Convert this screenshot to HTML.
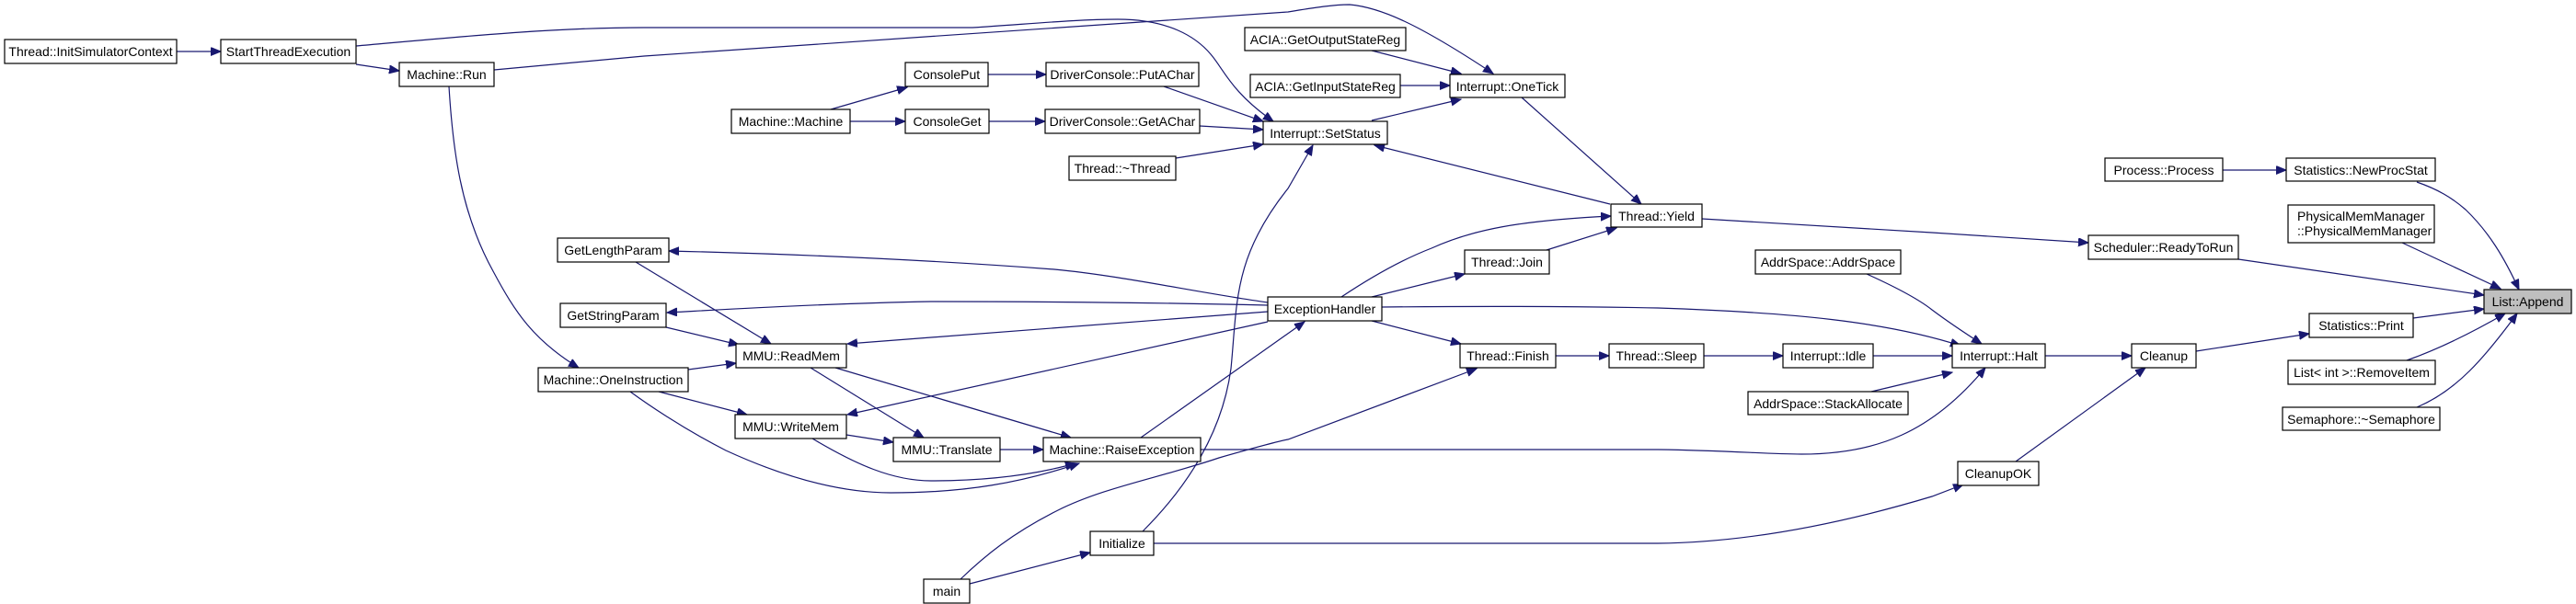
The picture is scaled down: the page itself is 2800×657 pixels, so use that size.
<!DOCTYPE html>
<html><head><meta charset="utf-8"><style>
html,body{margin:0;padding:0;background:#fff;}
svg{display:block;}
text{font-family:"Liberation Sans",Arial,sans-serif;font-size:14px;fill:#000;text-anchor:middle;}
.n{fill:#fff;stroke:#000;stroke-width:1.2;}
.s{fill:none;stroke:#999;stroke-width:1.5;}
.e{fill:none;stroke:#191970;stroke-width:1.2;marker-end:url(#a);}
</style></head><body>
<svg width="2800" height="657" viewBox="0 0 2800 657" xmlns="http://www.w3.org/2000/svg">
<defs><marker id="a" markerUnits="userSpaceOnUse" markerWidth="12" markerHeight="10" refX="11" refY="4.5" orient="auto"><path d="M0,0 L11,4.5 L0,9 z" fill="#191970" stroke="#191970"/></marker></defs>

<!-- edges -->
<path class="e" d="M192,56 L240,56"/>
<path class="e" d="M387,70 L434,77"/>
<path class="e" d="M387,50 C500,40 600,30 700,30 L1057,30 C1120,26 1170,21 1215,21 C1270,21 1300,40 1316,59 C1330,75 1338,100 1384,132"/>
<path class="e" d="M537,76 L700,61 L1400,13 C1430,8 1450,5 1467,5 C1500,8 1540,25 1623,80"/>
<path class="e" d="M488,94 C492,160 500,230 536,295 C560,340 580,370 629,400"/>
<path class="e" d="M903,119 L986,95"/>
<path class="e" d="M924,132 L984,132"/>
<path class="e" d="M1074,81 L1137,81"/>
<path class="e" d="M1075,132 L1136,132"/>
<path class="e" d="M1265,94 L1373,132"/>
<path class="e" d="M1304,137 L1373,141"/>
<path class="e" d="M1278,172 L1373,157"/>
<path class="e" d="M1491,55 L1588,80"/>
<path class="e" d="M1522,93 L1576,93"/>
<path class="e" d="M1491,131 L1588,108"/>
<path class="e" d="M1654,106 L1784,222"/>
<path class="e" d="M1750,222 L1494,158"/>
<path class="e" d="M1242,578 C1300,520 1330,460 1338,401 C1345,330 1340,280 1400,205 L1427,158"/>
<path class="e" d="M1458,323 C1500,295 1530,280 1556,270 C1600,250 1650,240 1751,235"/>
<path class="e" d="M1491,323 L1592,298"/>
<path class="e" d="M1681,272 L1757,248"/>
<path class="e" d="M1850,238 L2100,253 L2270,264"/>
<path class="e" d="M2416,185 L2485,185"/>
<path class="e" d="M2627,198 C2650,206 2665,215 2680,228 C2705,252 2722,280 2738,315"/>
<path class="e" d="M2611,264 L2718,314"/>
<path class="e" d="M2433,282 L2700,321"/>
<path class="e" d="M2623,346 L2700,336"/>
<path class="e" d="M2616,392 C2650,380 2690,360 2723,341"/>
<path class="e" d="M2627,443 C2670,425 2700,390 2736,341"/>
<path class="e" d="M2387,382 L2510,363"/>
<path class="e" d="M2223,387 L2317,387"/>
<path class="e" d="M2191,502 L2332,400"/>
<path class="e" d="M1254,591 L1802,591 C1900,590 2000,570 2100,540 L2134,527"/>
<path class="e" d="M1054,635 L1185,601"/>
<path class="e" d="M1044,630 C1070,605 1100,580 1150,555 C1200,530 1260,520 1325,498 C1360,488 1390,480 1400,478 L1605,401"/>
<path class="e" d="M2029,298 C2060,312 2085,325 2100,337 C2120,352 2140,365 2154,374"/>
<path class="e" d="M1502,334 C1600,333 1700,333 1802,335 C1950,340 2050,350 2131,376"/>
<path class="e" d="M2036,387 L2122,387"/>
<path class="e" d="M2034,426 L2122,405"/>
<path class="e" d="M1305,489 L1802,489 C1880,490 1920,494 1958,494 C2040,494 2100,470 2158,400"/>
<path class="e" d="M1491,349 L1588,374"/>
<path class="e" d="M1691,387 L1749,387"/>
<path class="e" d="M1852,387 L1938,387"/>
<path class="e" d="M1378,329 C1300,318 1220,300 1146,293 C1000,282 850,276 727,273"/>
<path class="e" d="M1378,332 C1250,329 1100,328 1012,328 C900,330 800,336 725,340"/>
<path class="e" d="M1378,339 L921,374"/>
<path class="e" d="M1240,476 L1418,350"/>
<path class="e" d="M1378,350 L921,451"/>
<path class="e" d="M691,285 L838,374"/>
<path class="e" d="M724,356 L803,375"/>
<path class="e" d="M748,402 L800,395"/>
<path class="e" d="M716,426 L812,451"/>
<path class="e" d="M685,426 C700,437 740,465 789,490 C850,518 910,536 968,536 C1050,536 1110,525 1173,504"/>
<path class="e" d="M881,400 L1004,476"/>
<path class="e" d="M908,400 L1164,476"/>
<path class="e" d="M920,473 L971,481"/>
<path class="e" d="M883,477 C930,505 970,523 1012,523 C1080,523 1130,515 1169,504"/>
<path class="e" d="M1087,489 L1134,489"/>

<!-- nodes -->
<g>
<rect class="n" x="5" y="43" width="187" height="26"/><text x="98.5" y="61">Thread::InitSimulatorContext</text>
<rect class="n" x="240" y="43" width="147" height="26"/><text x="313.5" y="61">StartThreadExecution</text>
<rect class="n" x="434" y="68" width="103" height="26"/><text x="485.5" y="86">Machine::Run</text>
<rect class="n" x="606" y="259" width="121" height="26"/><text x="666.5" y="277">GetLengthParam</text>
<rect class="n" x="609" y="330" width="115" height="26"/><text x="666.5" y="348">GetStringParam</text>
<rect class="n" x="585" y="400" width="163" height="26"/><text x="666.5" y="418">Machine::OneInstruction</text>
<rect class="n" x="795" y="119" width="129" height="26"/><text x="859.5" y="137">Machine::Machine</text>
<rect class="n" x="984" y="68" width="90" height="26"/><text x="1029" y="86">ConsolePut</text>
<rect class="n" x="984" y="119" width="91" height="26"/><text x="1029.5" y="137">ConsoleGet</text>
<rect class="n" x="1137" y="68" width="166" height="26"/><text x="1220" y="86">DriverConsole::PutAChar</text>
<rect class="n" x="1136" y="119" width="168" height="26"/><text x="1220" y="137">DriverConsole::GetAChar</text>
<rect class="n" x="1162" y="170" width="116" height="26"/><text x="1220" y="188">Thread::~Thread</text>
<rect class="n" x="1373" y="132" width="135" height="25"/><text x="1440.5" y="150">Interrupt::SetStatus</text>
<rect class="n" x="1353" y="30" width="175" height="25"/><text x="1440.5" y="48">ACIA::GetOutputStateReg</text>
<rect class="n" x="1359" y="81" width="163" height="25"/><text x="1440.5" y="99">ACIA::GetInputStateReg</text>
<rect class="n" x="800" y="374" width="120" height="26"/><text x="860" y="392">MMU::ReadMem</text>
<rect class="n" x="799" y="451" width="121" height="26"/><text x="859.5" y="469">MMU::WriteMem</text>
<rect class="n" x="971" y="476" width="116" height="26"/><text x="1029" y="494">MMU::Translate</text>
<rect class="n" x="1134" y="476" width="171" height="26"/><text x="1219.5" y="494">Machine::RaiseException</text>
<rect class="n" x="1378" y="323" width="124" height="26"/><text x="1440" y="341">ExceptionHandler</text>
<rect class="n" x="1185" y="578" width="69" height="26"/><text x="1219.5" y="596">Initialize</text>
<rect class="n" x="1004" y="630" width="50" height="26"/><text x="1029" y="648">main</text>
<rect class="n" x="1576" y="81" width="125" height="25"/><text x="1638.5" y="99">Interrupt::OneTick</text>
<rect class="n" x="1751" y="222" width="99" height="25"/><text x="1800.5" y="240">Thread::Yield</text>
<rect class="n" x="1592" y="272" width="92" height="26"/><text x="1638" y="290">Thread::Join</text>
<rect class="n" x="1908" y="272" width="158" height="26"/><text x="1987" y="290">AddrSpace::AddrSpace</text>
<rect class="n" x="1587" y="374" width="104" height="26"/><text x="1639" y="392">Thread::Finish</text>
<rect class="n" x="1749" y="374" width="103" height="26"/><text x="1800.5" y="392">Thread::Sleep</text>
<rect class="n" x="1938" y="374" width="98" height="26"/><text x="1987" y="392">Interrupt::Idle</text>
<rect class="n" x="1900" y="426" width="174" height="25"/><text x="1987" y="444">AddrSpace::StackAllocate</text>
<rect class="n" x="2288" y="172" width="128" height="25"/><text x="2352" y="190">Process::Process</text>
<rect class="n" x="2485" y="172" width="162" height="25"/><text x="2566" y="190">Statistics::NewProcStat</text>
<rect class="n" x="2487" y="223" width="159" height="41"/><text x="2566" y="240" style="text-anchor:start" transform="translate(-69,0)">PhysicalMemManager</text><text x="2566" y="256" style="text-anchor:start" transform="translate(-69,0)">::PhysicalMemManager</text>
<rect class="n" x="2270" y="256" width="163" height="26"/><text x="2351.5" y="274">Scheduler::ReadyToRun</text>
<rect x="2700" y="315" width="95" height="26" fill="#bfbfbf" stroke="#000" stroke-width="1.2"/><text x="2747.5" y="333">List::Append</text>
<rect class="n" x="2510" y="341" width="113" height="26"/><text x="2566.5" y="359">Statistics::Print</text>
<rect class="n" x="2122" y="374" width="101" height="26"/><text x="2172.5" y="392">Interrupt::Halt</text>
<rect class="n" x="2317" y="374" width="70" height="26"/><text x="2352" y="392">Cleanup</text>
<rect class="n" x="2487" y="392" width="160" height="26"/><text x="2567" y="410">List&lt; int &gt;::RemoveItem</text>
<rect class="n" x="2481" y="443" width="171" height="25"/><text x="2566.5" y="461">Semaphore::~Semaphore</text>
<rect class="n" x="2128" y="502" width="88" height="26"/><text x="2172" y="520">CleanupOK</text>
</g>
</svg>
</body></html>
